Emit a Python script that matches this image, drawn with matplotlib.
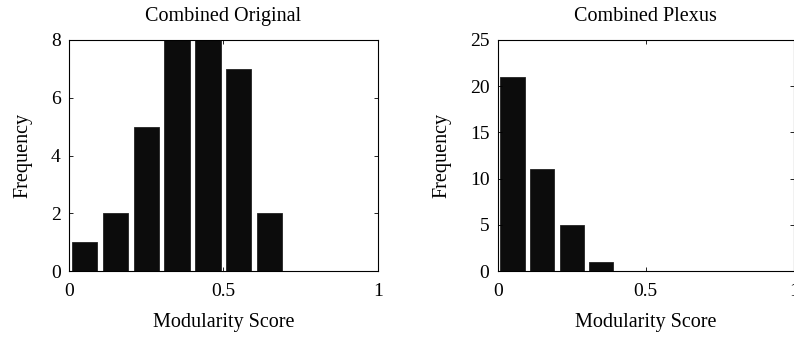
import matplotlib
matplotlib.use("Agg")
import matplotlib.pyplot as plt
import numpy as np

plt.rcParams['font.family'] = ['Liberation Serif', 'DejaVu Serif']

bin_centers = [0.05, 0.15, 0.25, 0.35, 0.45, 0.55, 0.65, 0.75, 0.85, 0.95]
orig_counts = [1, 2, 5, 8, 8, 7, 2, 0, 0, 0]
plexus_counts = [21, 11, 5, 1, 0, 0, 0, 0, 0, 0]

titles = ["Combined Original", "Combined Plexus"]
xlabel = "Modularity Score"
ylabel = "Frequency"
xticks = [0, 0.5, 1]
xticklabels = ["0", "0.5", "1"]
orig_yticks = [0, 2, 4, 6, 8]
plexus_yticks = [0, 5, 10, 15, 20, 25]

fig = plt.figure(figsize=(7.94, 3.37), dpi=100)
ax1 = fig.add_axes([69/794, 66/337, 308.7/794, 231/337])
ax2 = fig.add_axes([497.7/794, 66/337, 296/794, 231/337])

fs_tick = 14
fs_lab = 14.5
for ax, counts, title, yt in [(ax1, orig_counts, titles[0], orig_yticks),
                              (ax2, plexus_counts, titles[1], plexus_yticks)]:
    ax.bar(bin_centers, counts, width=0.082, color='#0c0c0c', edgecolor='#222222', linewidth=0.6)
    ax.set_xlim(0, 1)
    ax.set_ylim(yt[0], yt[-1])
    ax.set_xticks(xticks)
    ax.set_xticklabels(xticklabels)
    ax.set_yticks(yt)
    ax.tick_params(direction='in', top=True, right=True, labelsize=fs_tick, length=3, width=0.6, pad=6)
    ax.tick_params(axis='x', pad=9)
    ax.set_title(title, fontsize=fs_lab, pad=14)
    ax.set_xlabel(xlabel, fontsize=fs_lab, labelpad=9)
    ax.set_ylabel(ylabel, fontsize=fs_lab, labelpad=13)
    for s in ax.spines.values():
        s.set_linewidth(0.8)

fig.savefig("out.png", dpi=100)
